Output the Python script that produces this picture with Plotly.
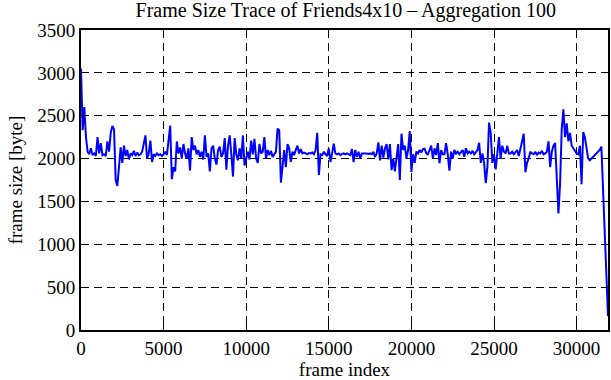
import plotly.graph_objects as go

agg = 100
frame_size = [
    3050, 2330, 2600, 2250, 2080, 2050, 2120, 2040, 2060, 2030,
    2250, 2060, 2180, 2040, 2050, 2030, 2200, 2080, 2300, 2380,
    2340, 1750, 1680, 1900, 2130, 1950, 2150, 2030, 2100, 1990,
    2060, 2040, 2090, 2030, 2070, 2040, 2050, 2080, 2180, 2270,
    2000, 2060, 2210, 1960, 2050, 2030, 2060, 2040, 2050, 2030,
    2050, 2080, 2040, 2250, 2385, 1760, 1900, 1850, 2200, 2060,
    2130, 2000, 2170, 2060, 2000, 2120, 1860, 2250, 2100, 2150,
    2050, 2100, 2020, 2080, 1990, 2270, 2020, 2060, 1850, 2120,
    2150, 2000, 1930, 2100, 2140, 2020, 2060, 2240, 1870, 2150,
    2270, 2050, 1790, 2240, 2050, 1980, 2120, 2000, 2270, 1920,
    2000, 2080, 1990, 2210, 2050, 2230, 2000, 1950, 2170, 2060,
    2080, 2250, 2000, 2100, 2040, 2090, 2020, 2060, 2080, 2350,
    2330, 1720, 1950, 2100, 1900, 2170, 2120, 1960, 2080, 2040,
    2100, 2150, 2060, 2110, 2060, 2070, 2060, 2050, 2065, 2060,
    2070, 2050, 2100, 2300, 1810, 2050, 2040, 2080, 2050, 2030,
    2120, 1960, 2060, 2175, 2060, 2050, 2060, 2040, 2055, 2060,
    2050, 2060, 2050, 2040, 2110, 1960, 2100, 2020, 2080, 2000,
    2060, 2060, 2065, 2060, 2055, 2060, 2050, 2080, 2020, 2060,
    2190, 1980, 2150, 2010, 2120, 2170, 1990, 2170, 1865, 2000,
    1850, 2050, 2170, 1750, 2290, 2100, 2150, 2000, 2100, 2320,
    1845, 2050, 1950, 2080, 2060, 2100, 2070, 2110, 2115, 2060,
    2050, 2100, 2150, 2000, 2120, 2040, 2180, 1945, 2100, 2050,
    2050, 2180, 2050, 1860, 2080, 2000, 2100, 2060, 2080, 2050,
    2080, 2100, 2020, 2120, 2060, 2080, 2060, 2090, 2050, 2070,
    2100, 2185, 1950, 2060, 1950, 1713, 1900, 2420, 2300, 1950,
    2050, 1875, 2100, 2250, 2000, 2150, 2080, 2060, 2150, 2060,
    2060, 2080, 2050, 2070, 2100, 2030, 2120, 2180, 2290, 1840,
    1950, 2000, 2080, 2060, 2050, 2080, 2040, 2070, 2060, 2090,
    2050, 2060, 2080, 2200, 1900, 2080, 2150, 2180, 1750, 1360,
    1710, 2350, 2575, 2250, 2410, 2200, 2300, 2150, 2120, 2080,
    2060, 2050, 2150, 1700, 2310, 2250, 2100, 2000, 1980, 2000,
    2020, 2040, 2060, 2070, 2100, 2140, 1640, 1170, 650, 160,
]
frame_index = [i * agg for i in range(len(frame_size))]

x_ticks = [0, 5000, 10000, 15000, 20000, 25000, 30000]
y_ticks = [0, 500, 1000, 1500, 2000, 2500, 3000, 3500]

font = dict(family="Liberation Serif, Times New Roman, serif", size=19, color="black")
title_font = dict(family="Liberation Serif, Times New Roman, serif", size=20, color="black")

fig = go.Figure()
fig.add_trace(go.Scatter(
    x=frame_index, y=frame_size, mode="lines",
    line=dict(color="#0000ff", width=2), showlegend=False,
))

axis_common = dict(
    showline=True, linecolor="black", linewidth=2, mirror="allticks",
    ticks="inside", ticklen=6, tickwidth=1, tickcolor="black",
    showgrid=True, gridcolor="black", gridwidth=1, griddash="8px,5px",
    zeroline=False, tickfont=font, automargin=False,
)

fig.update_layout(
    width=611, height=380,
    margin=dict(l=81, r=3, t=30, b=50),
    paper_bgcolor="white", plot_bgcolor="white",
    font=font,
    title=dict(text="Frame Size Trace of Friends4x10 \u2013 Aggregation 100",
               x=0.566, xanchor="center", y=0.974, yanchor="middle",
               font=title_font),
    xaxis=dict(range=[0, frame_index[-1]], tickvals=x_ticks,
               ticktext=[str(v) for v in x_ticks],
               title=dict(text="frame index", font=font, standoff=0),
               **axis_common),
    yaxis=dict(range=[0, 3500], tickvals=y_ticks,
               ticktext=[str(v) for v in y_ticks],
               title=dict(text="frame size [byte]", font=font, standoff=10),
               **axis_common),
)

fig.write_html("out.html",
               config={"displayModeBar": False},
               post_script="document.body.style.margin='0';document.body.style.overflow='hidden';")
